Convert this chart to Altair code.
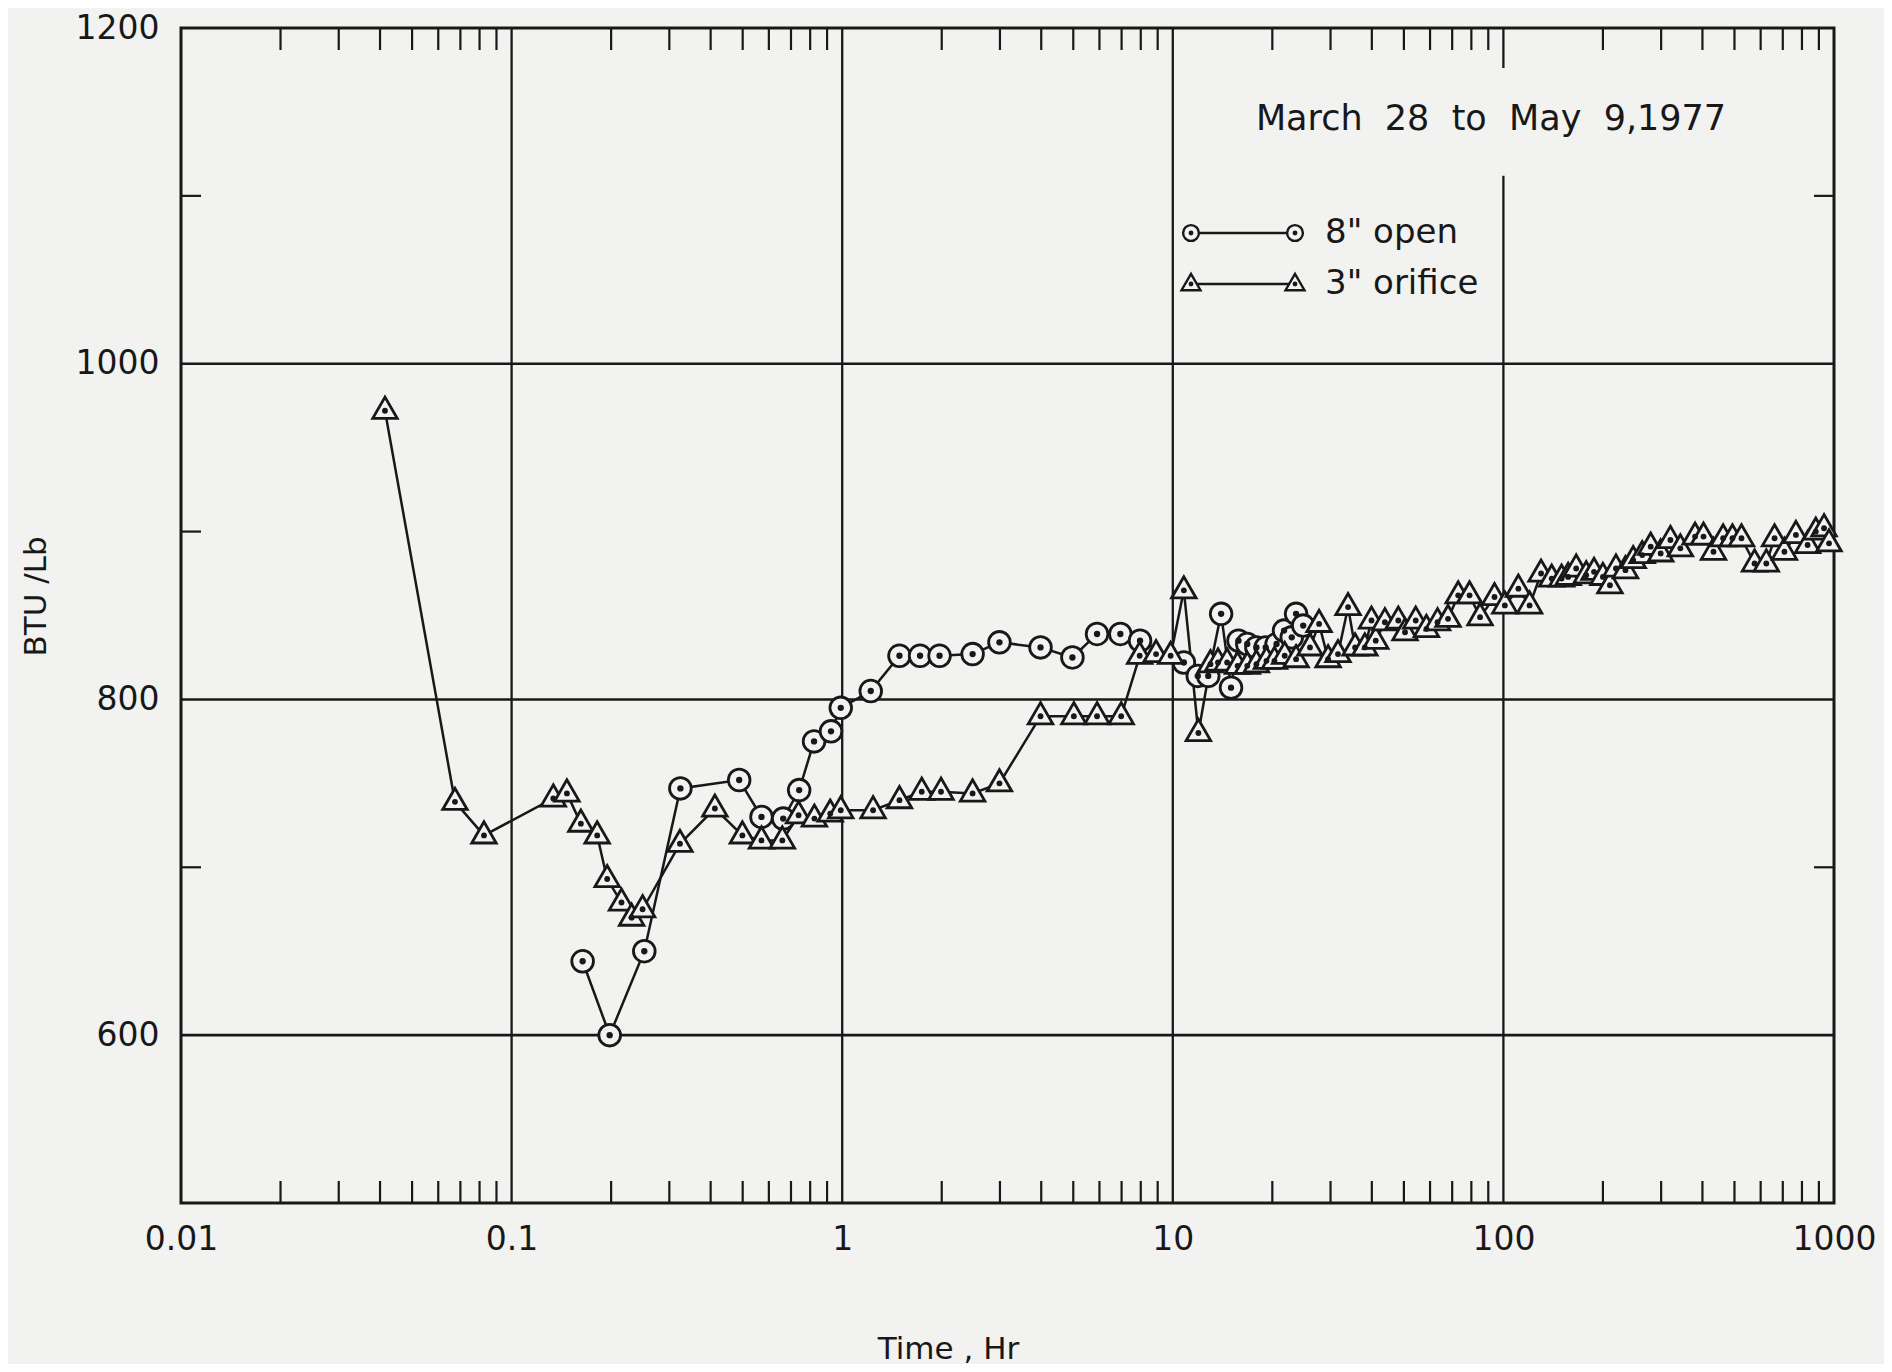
import altair as alt
import pandas as pd

# ---------------- data ----------------
# 8" open  (circles)
open8_time = [0.164, 0.198, 0.252, 0.324, 0.488, 0.570, 0.663, 0.741, 0.822, 0.925,
              0.99, 1.22, 1.49, 1.72, 1.97, 2.48, 2.99, 3.98, 4.97, 5.90,
              6.94, 7.96, 10.8, 11.9, 12.8, 14.0, 15.0, 15.8, 16.8, 17.9,
              19.1, 20.6, 21.7, 22.9, 23.6, 24.8]
open8_btu = [644, 600, 650, 747, 752, 730, 729, 746, 775, 781,
             795, 805, 826, 826, 826, 827, 834, 831, 825, 839,
             839, 835, 822, 814, 814, 851, 807, 835, 833, 831,
             831, 833, 841, 837, 851, 844]

# 3" orifice (triangles)
orif3_time = [0.0414, 0.0674, 0.0825, 0.1337, 0.147, 0.162, 0.1815, 0.1946, 0.215, 0.2307,
              0.249, 0.323, 0.412, 0.499, 0.570, 0.659, 0.738, 0.824, 0.92, 0.99,
              1.24, 1.49, 1.74, 1.99, 2.48, 2.99, 3.98, 5.02, 5.90, 6.98,
              7.94, 8.9, 9.85, 10.8, 11.95, 13.0, 13.7, 14.6, 15.7, 16.8,
              17.9, 19.2, 20.3, 21.8, 23.6, 26.0, 27.7, 29.5, 31.6, 33.9,
              35.6, 38.1, 39.9, 41.1, 43.8, 48.1, 50.4, 54.3, 58.5, 63.2,
              68, 73, 79, 85, 94, 101, 111, 120, 130, 140,
              150, 157, 166, 178, 188, 200, 210, 219, 234, 247,
              263, 279, 299, 320, 343, 380, 403, 432, 462, 493,
              525, 575, 624, 661, 708, 767, 832, 881, 933, 966]
orif3_btu = [972, 739, 719, 741, 744, 726, 719, 693, 679, 670,
             675, 714, 735, 719, 716, 716, 731, 729, 732, 734,
             734, 740, 745, 745, 744, 750, 790, 790, 790, 790,
             826, 827, 826, 865, 780, 821, 822, 822, 820, 820,
             821, 823, 823, 826, 824, 831, 845, 824, 827, 855,
             831, 831, 847, 835, 846, 847, 840, 847, 842, 846,
             848, 862, 862, 849, 861, 856, 866, 856, 875, 872,
             872, 873, 878, 874, 876, 873, 868, 878, 877, 883,
             886, 891, 887, 895, 890, 897, 897, 888, 896, 896,
             896, 881, 881, 896, 888, 898, 892, 900, 902, 893]

# axes / grid
x_labels = [0.01, 0.1, 1, 10, 100, 1000]
y_labels = [600, 800, 1000, 1200]
x_grid = [0.1, 1, 10, 100]
x_grid_top = [1200, 1200, 1200, 1112]
y_grid = [600, 800, 1000]
y_minor = [700, 900, 1100]
x_minor = [k * 10.0 ** d for d in range(-2, 3) for k in range(2, 10)]

title_text = "March\u00a0 28\u00a0 to\u00a0 May\u00a0 9,1977"
legend_labels = ['8" open', '3" orifice']
legend_shapes = ["circle", "triangle-up"]

# ---------------- styling ----------------
W, H = 1653, 1175
INK = "#181818"
PAPER = "#f2f2f0"
FONT = "DejaVu Sans"

xs = alt.Scale(type="log", domain=[0.01, 1000])
ys = alt.Scale(domain=[500, 1200], nice=False, zero=False)

df_open = pd.DataFrame({"time": open8_time, "btu": open8_btu})
df_orif = pd.DataFrame({"time": orif3_time, "btu": orif3_btu})
df_xgrid = pd.DataFrame({"time": x_grid, "btu": [500] * len(x_grid), "btu2": x_grid_top})
df_ygrid = pd.DataFrame({"btu": y_grid})
df_yminor = pd.DataFrame({"btu": y_minor})
df_xminor = pd.DataFrame({"time": x_minor})
df_top100 = pd.DataFrame({"time": [100]})
one = pd.DataFrame({"k": [0]})

x_axis = alt.Axis(values=x_labels, format="~g", title="Time , Hr",
                  grid=False, domain=False, ticks=False, tickSize=0,
                  labelPadding=20, labelFontSize=33, labelFont=FONT,
                  labelColor=INK, labelFlush=False,
                  titleFont=FONT, titleFontSize=31, titleFontWeight="normal",
                  titleColor=INK, titleX=767, titleY=146,
                  titleAlign="center", titleBaseline="middle")
y_axis = alt.Axis(values=y_labels, format="d", title="BTU /Lb",
                  grid=False, domain=False, ticks=False, tickSize=0,
                  labelPadding=22, labelFontSize=33, labelFont=FONT,
                  labelColor=INK, labelFlush=False,
                  titleFont=FONT, titleFontSize=31, titleFontWeight="normal",
                  titleColor=INK, titleX=-145, titleY=568, titleAngle=270,
                  titleAlign="center", titleBaseline="middle")

X = alt.X("time:Q", scale=xs, axis=x_axis, title="Time , Hr")
Y = alt.Y("btu:Q", scale=ys, axis=y_axis, title="BTU /Lb")

layers = []

# grid lines
layers.append(alt.Chart(df_xgrid).mark_rule(color=INK, strokeWidth=2.3).encode(
    x=X, y=Y, y2="btu2:Q"))
layers.append(alt.Chart(df_ygrid).mark_rule(color=INK, strokeWidth=2.6).encode(
    y=Y, x=alt.value(0), x2=alt.value(W)))
# top tick at 100
layers.append(alt.Chart(df_top100).mark_rule(color=INK, strokeWidth=2.3).encode(
    x=X, y=alt.value(0), y2=alt.value(40)))
# minor log ticks bottom & top
layers.append(alt.Chart(df_xminor).mark_rule(color=INK, strokeWidth=2.2).encode(
    x=X, y=alt.value(H), y2=alt.value(H - 22)))
layers.append(alt.Chart(df_xminor).mark_rule(color=INK, strokeWidth=2.2).encode(
    x=X, y=alt.value(0), y2=alt.value(22)))
# y minor ticks left & right
layers.append(alt.Chart(df_yminor).mark_rule(color=INK, strokeWidth=2.2).encode(
    y=Y, x=alt.value(0), x2=alt.value(20)))
layers.append(alt.Chart(df_yminor).mark_rule(color=INK, strokeWidth=2.2).encode(
    y=Y, x=alt.value(W - 20), x2=alt.value(W)))

# series lines
layers.append(alt.Chart(df_orif).mark_line(color=INK, strokeWidth=2.5).encode(x=X, y=Y))
layers.append(alt.Chart(df_open).mark_line(color=INK, strokeWidth=2.5).encode(x=X, y=Y))

# markers
layers.append(alt.Chart(df_open).mark_point(shape="circle", size=470, filled=True,
                                            fill=PAPER, stroke=INK, strokeWidth=2.8,
                                            opacity=1).encode(x=X, y=Y))
layers.append(alt.Chart(df_open).mark_point(shape="circle", size=40, filled=True,
                                            color=INK, opacity=1).encode(x=X, y=Y))
layers.append(alt.Chart(df_orif).mark_point(shape="triangle-up", size=600, filled=True,
                                            fill=PAPER, stroke=INK, strokeWidth=2.8,
                                            opacity=1, yOffset=-3).encode(x=X, y=Y))
layers.append(alt.Chart(df_orif).mark_point(shape="circle", size=34, filled=True,
                                            color=INK, opacity=1).encode(x=X, y=Y))

# title inside plot
layers.append(alt.Chart(one).mark_text(text=title_text, font=FONT, fontSize=35,
                                       color=INK, align="center", baseline="middle").encode(
    x=alt.value(1310), y=alt.value(91)))

# legend
leg_y = [205, 256]
leg_sizes = [250, 360]
for lab, shp, ly, sz in zip(legend_labels, legend_shapes, leg_y, leg_sizes):
    layers.append(alt.Chart(one).mark_rule(color=INK, strokeWidth=2.4).encode(
        x=alt.value(1010), x2=alt.value(1114), y=alt.value(ly)))
    for lx in (1010, 1114):
        layers.append(alt.Chart(one).mark_point(shape=shp, size=sz, filled=True, fill=PAPER,
                                                stroke=INK, strokeWidth=2.4, opacity=1,
                                                yOffset=(-2 if shp != "circle" else 0)).encode(
            x=alt.value(lx), y=alt.value(ly)))
        layers.append(alt.Chart(one).mark_point(shape="circle", size=24, filled=True,
                                                color=INK, opacity=1).encode(
            x=alt.value(lx), y=alt.value(ly)))
    layers.append(alt.Chart(one).mark_text(text=lab, font=FONT, fontSize=34, color=INK,
                                           align="left", baseline="middle").encode(
        x=alt.value(1144), y=alt.value(ly)))

chart = alt.layer(*layers).properties(
    width=W, height=H,
    autosize=alt.AutoSizeParams(type="none"),
    padding={"left": 173, "top": 20, "right": 50, "bottom": 161},
    background=PAPER,
).configure_view(stroke=INK, strokeWidth=3)

chart.save("out.html", embed_options={"renderer": "svg", "actions": False})
